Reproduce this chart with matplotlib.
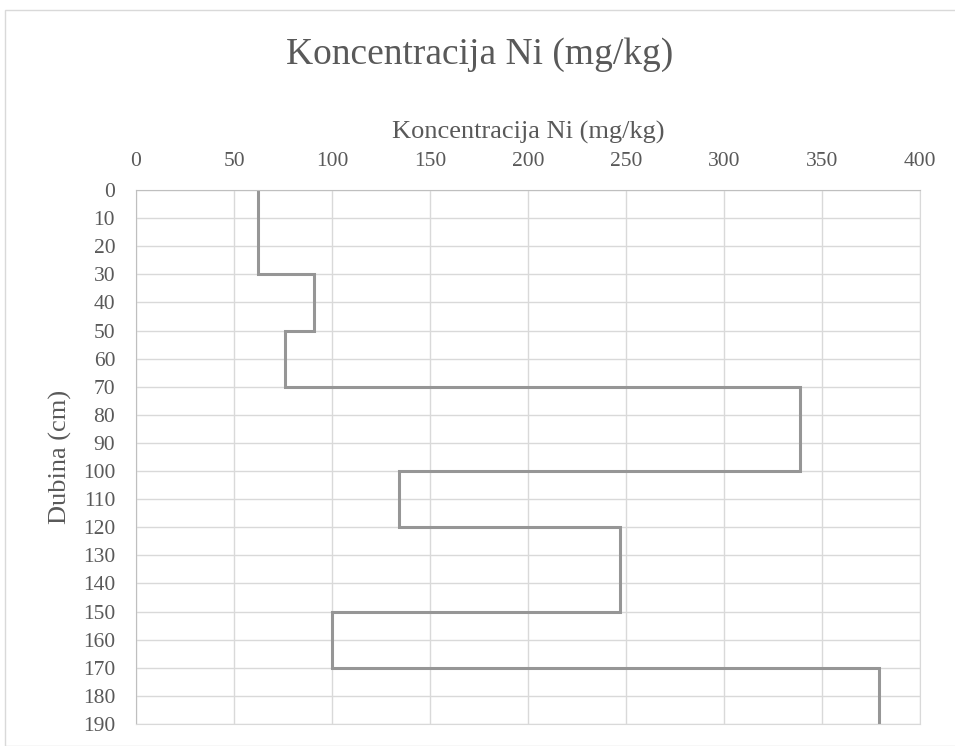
import numpy as np
import matplotlib.pyplot as plt
from matplotlib.patches import Rectangle

# Slojevi profila: gornja i donja dubina (cm) i koncentracija Ni (mg/kg)
dubina_od = [0, 30, 50, 70, 100, 120, 150, 170]
dubina_do = [30, 50, 70, 100, 120, 150, 170, 190]
ni = [62, 91, 76, 339, 134, 247, 100, 379]

x_ticks = [0, 50, 100, 150, 200, 250, 300, 350, 400]
y_ticks = list(range(0, 200, 10))

plt.rcParams['font.family'] = ['Liberation Serif', 'DejaVu Serif']
siva = '#595959'

fig = plt.figure(figsize=(9.55, 7.46), dpi=100)
W, H = 955, 746
ax = fig.add_axes([136 / W, 1 - 724 / H, (920 - 136) / W, (724 - 190) / H])

# stepenasta linija: svaki sloj je vertikalni segment, spojeni horizontalno
xs = np.repeat(ni, 2)
ys = np.column_stack([dubina_od, dubina_do]).ravel()
ax.plot(xs, ys, color='#969696', linewidth=2.2, solid_joinstyle='miter')

ax.set_xlim(0, 400)
ax.set_ylim(190, 0)
ax.set_xticks(x_ticks)
ax.set_yticks(y_ticks)
ax.xaxis.tick_top()
ax.xaxis.set_label_position('top')
ax.grid(True, color='#d9d9d9', linewidth=1.0)
ax.set_axisbelow(True)
ax.tick_params(length=0, labelsize=15.5, colors=siva)
ax.tick_params(axis='y', pad=15)
ax.tick_params(axis='x', pad=14)

for s in ax.spines.values():
    s.set_color('#d9d9d9')
ax.spines['top'].set_color('#bfbfbf')
ax.spines['left'].set_color('#bfbfbf')

ax.set_xlabel('Koncentracija Ni (mg/kg)', fontsize=19, color=siva, labelpad=9)
ax.set_ylabel('Dubina (cm)', fontsize=19, color=siva, labelpad=8)

fig.text(0.5 * (5 + W) / W, 1 - 55 / H, 'Koncentracija Ni (mg/kg)',
         ha='center', va='center', fontsize=27, color=siva)

# okvir grafikona
fig.patches.append(Rectangle((5 / W, 0), 1, 1 - 10 / H, transform=fig.transFigure,
                             fill=False, edgecolor='#d9d9d9', linewidth=1.0))

fig.savefig('out.png', dpi=100)
